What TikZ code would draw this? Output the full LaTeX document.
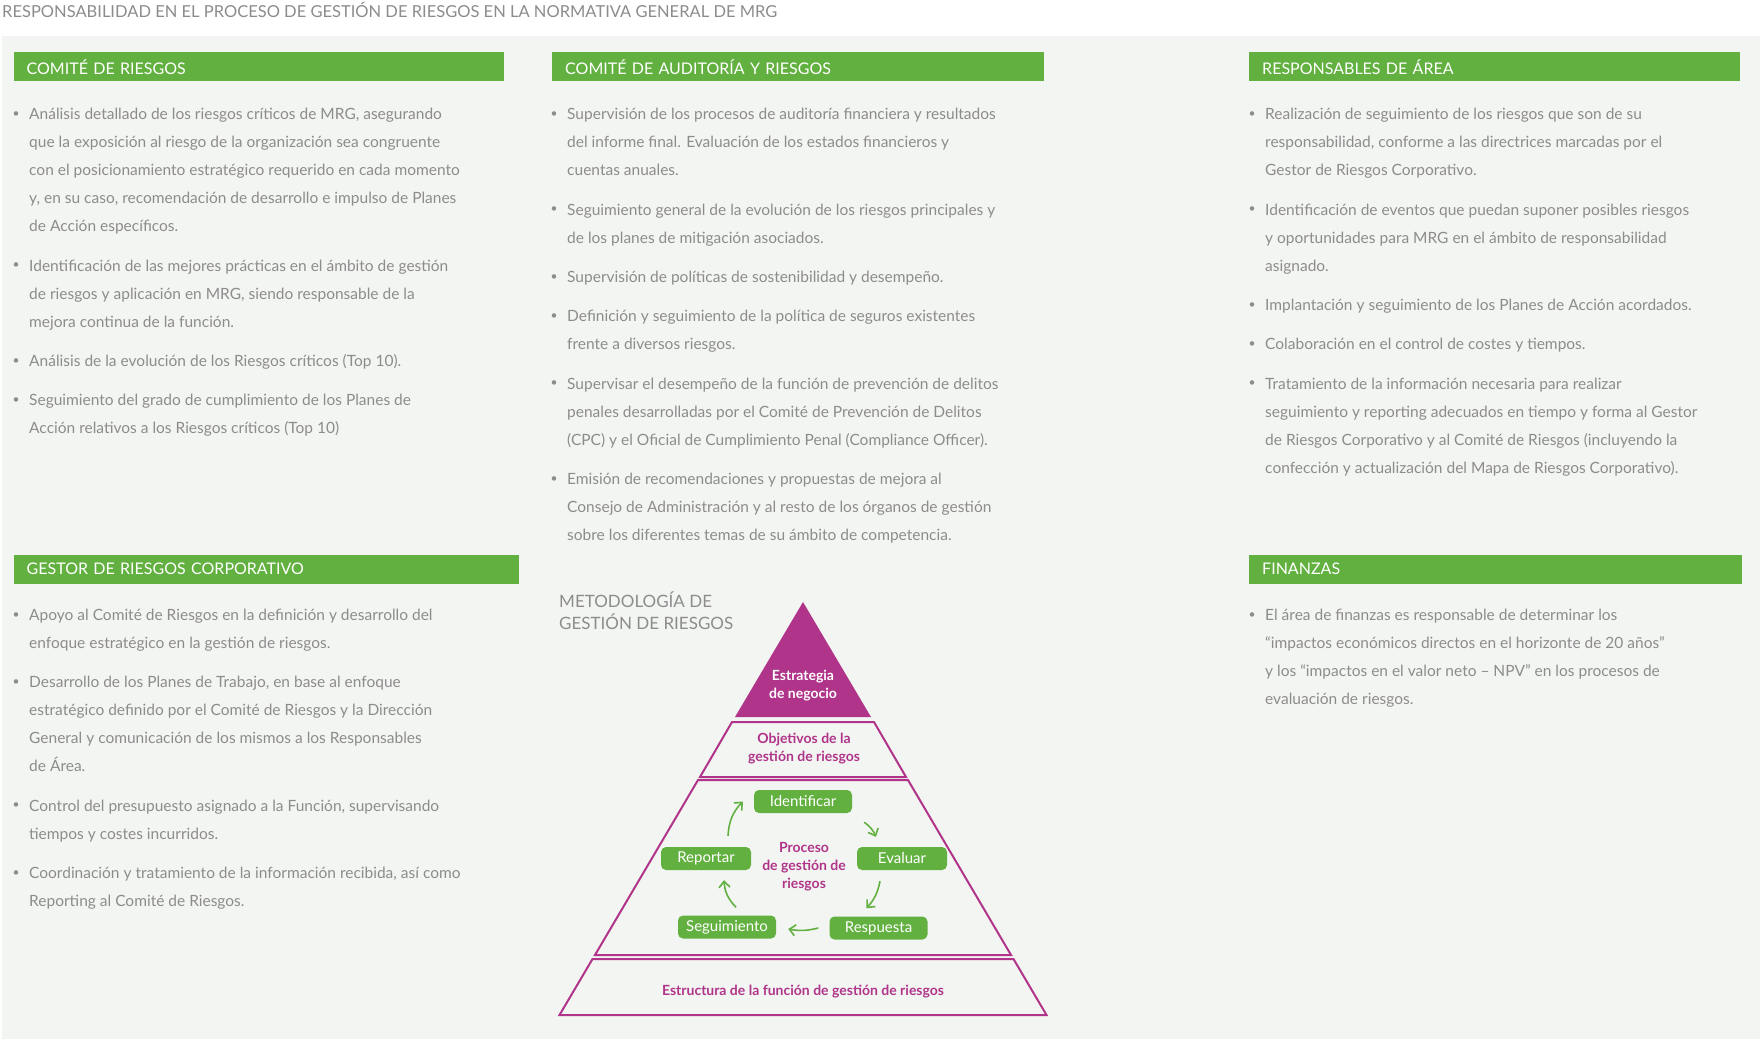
\documentclass[tikz,border=0pt]{standalone}
\usepackage{fontspec}
\setmainfont{Lato}
\usetikzlibrary{arrows.meta}
\definecolor{mrggreen}{HTML}{62B140}
\definecolor{mrgpurple}{HTML}{B0358A}
\definecolor{mrgtext}{HTML}{8C8C8C}
\definecolor{mrgback}{HTML}{F3F5F2}
\tikzset{
  txt/.style={anchor=north west, inner sep=0pt, align=left, text=mrgtext,
    font=\fontsize{15.5}{28}\selectfont},
  bul/.style={inner sep=0pt, text=mrgtext, font=\fontsize{12}{14}\selectfont},
  hdr/.style={anchor=north west, fill=mrggreen, text=white, inner xsep=13pt,
    inner ysep=0pt, minimum height=29pt, align=left, font=\fontsize{16}{18}\selectfont},
  band/.style={draw=mrgpurple, line width=2pt},
  step box/.style={fill=mrggreen, rounded corners=5pt, text=white, minimum width=98pt,
    minimum height=23pt, inner sep=0pt, font=\fontsize{15}{17}\selectfont},
  ptxt/.style={text=mrgpurple, align=center, inner sep=0pt,
    font=\bfseries\fontsize{14}{18}\selectfont},
  cyc/.style={draw=mrggreen, line width=1.6pt, -{Straight Barb[length=6pt,width=11pt]}}
}
% bullet item: x, y of first line centre, text
\newcommand{\bitem}[3]{%
  \node[txt] at (#1,#2-14.6) {\strut #3};
  \node[bul] at (#1-13,#2) {\textbullet};}
\begin{document}
\begin{tikzpicture}[x=1pt, y=-1pt]
% Background
    \useasboundingbox (0,0) rectangle (1760,1039);
    \fill[white] (0,0) rectangle (1760,1039);
    \fill[mrgback] (2,36) rectangle (1760,1039);
    \node[anchor=west, inner sep=0pt, text=mrgtext, font=\fontsize{16.5}{18}\selectfont]
      (title) at (2,10) {RESPONSABILIDAD EN EL PROCESO DE GESTIÓN DE RIESGOS EN LA NORMATIVA GENERAL DE MRG};
% Headers
    \node[hdr, text width=464.5pt] (hcomite) at (13.5,52) {COMITÉ DE RIESGOS};
    \node[hdr, text width=466pt] (hauditoria) at (552,52) {COMITÉ DE AUDITORÍA Y RIESGOS};
    \node[hdr, text width=465pt] (hresp) at (1249,52) {RESPONSABLES DE ÁREA};
    \node[hdr, text width=479pt] (hgestor) at (13.5,554.5) {GESTOR DE RIESGOS CORPORATIVO};
    \node[hdr, text width=467pt] (hfinanzas) at (1249,554.5) {FINANZAS};
% Comite de riesgos
    \bitem{29}{114.5}{Análisis detallado de los riesgos críticos de MRG, asegurando\\que la exposición al riesgo de la organización sea congruente\\con el posicionamiento estratégico requerido en cada momento\\y, en su caso, recomendación de desarrollo e impulso de Planes\\de Acción específicos.}
    \bitem{29}{266}{Identificación de las mejores prácticas en el ámbito de gestión\\de riesgos y aplicación en MRG, siendo responsable de la\\mejora continua de la función.}
    \bitem{29}{361.4}{Análisis de la evolución de los Riesgos críticos (Top 10).}
    \bitem{29}{400.7}{Seguimiento del grado de cumplimiento de los Planes de\\Acción relativos a los Riesgos críticos (Top 10)}
% Comite de auditoria
    \bitem{567}{114.5}{Supervisión de los procesos de auditoría financiera y resultados\\del informe final. Evaluación de los estados financieros y\\cuentas anuales.}
    \bitem{567}{209.9}{Seguimiento general de la evolución de los riesgos principales y\\de los planes de mitigación asociados.}
    \bitem{567}{277.3}{Supervisión de políticas de sostenibilidad y desempeño.}
    \bitem{567}{316.5}{Definición y seguimiento de la política de seguros existentes\\frente a diversos riesgos.}
    \bitem{567}{383.9}{Supervisar el desempeño de la función de prevención de delitos\\penales desarrolladas por el Comité de Prevención de Delitos\\(CPC) y el Oficial de Cumplimiento Penal (Compliance Officer).}
    \bitem{567}{479.3}{Emisión de recomendaciones y propuestas de mejora al\\Consejo de Administración y al resto de los órganos de gestión\\sobre los diferentes temas de su ámbito de competencia.}
% Responsables de area
    \bitem{1265}{114.5}{Realización de seguimiento de los riesgos que son de su\\responsabilidad, conforme a las directrices marcadas por el\\Gestor de Riesgos Corporativo.}
    \bitem{1265}{209.9}{Identificación de eventos que puedan suponer posibles riesgos\\y oportunidades para MRG en el ámbito de responsabilidad\\asignado.}
    \bitem{1265}{305.3}{Implantación y seguimiento de los Planes de Acción acordados.}
    \bitem{1265}{344.6}{Colaboración en el control de costes y tiempos.}
    \bitem{1265}{383.9}{Tratamiento de la información necesaria para realizar\\seguimiento y reporting adecuados en tiempo y forma al Gestor\\de Riesgos Corporativo y al Comité de Riesgos (incluyendo la\\confección y actualización del Mapa de Riesgos Corporativo).}
% Gestor de riesgos corporativo
    \bitem{29}{615.1}{Apoyo al Comité de Riesgos en la definición y desarrollo del\\enfoque estratégico en la gestión de riesgos.}
    \bitem{29}{682.5}{Desarrollo de los Planes de Trabajo, en base al enfoque\\estratégico definido por el Comité de Riesgos y la Dirección\\General y comunicación de los mismos a los Responsables\\de Área.}
    \bitem{29}{806}{Control del presupuesto asignado a la Función, supervisando\\tiempos y costes incurridos.}
    \bitem{29}{873.3}{Coordinación y tratamiento de la información recibida, así como\\Reporting al Comité de Riesgos.}
% Finanzas
    \bitem{1265}{615.1}{El área de finanzas es responsable de determinar los\\“impactos económicos directos en el horizonte de 20 años”\\y los “impactos en el valor neto – NPV” en los procesos de\\evaluación de riesgos.}
% Pyramid
    \node[anchor=north west, inner sep=0pt, align=left, text=mrgtext,
      font=\fontsize{17}{22}\selectfont] (metodo) at (559,592) {METODOLOGÍA DE\\GESTIÓN DE RIESGOS};
    \fill[mrgpurple] (803,602) -- (871,717) -- (735,717) -- cycle;
    \draw[band] (732,722) -- (874,722) -- (906,777) -- (700,777) -- cycle;
    \draw[band] (698,780) -- (908,780) -- (1011,955) -- (595,955) -- cycle;
    \draw[band] (592.5,959) -- (1013.5,959) -- (1046.5,1015) -- (559.5,1015) -- cycle;
    \node[ptxt, text=white] (estrategia) at (803,686) {Estrategia\\de negocio};
    \node[ptxt] (objetivos) at (804,749) {Objetivos de la\\gestión de riesgos};
    \node[ptxt] (proceso) at (804,867) {Proceso\\de gestión de\\riesgos};
    \node[ptxt] (estructura) at (803,992) {Estructura de la función de gestión de riesgos};
% Process cycle
    \node[step box] (ident) at (803,801.5) {Identificar};
    \node[step box, minimum width=90pt] (eval) at (902,858.5) {Evaluar};
    \node[step box] (resp) at (878.5,928) {Respuesta};
    \node[step box] (segui) at (727,927) {Seguimiento};
    \node[step box, minimum width=90pt] (report) at (706,858.5) {Reportar};
    \draw[cyc] ([shift={(12,9)}]ident.south east) to[bend left=15] ([shift={(-26,-10)}]eval.north);
    \draw[cyc] ([shift={(-22,11)}]eval.south) to[bend left=15] ([shift={(-12,-8)}]resp.north);
    \draw[cyc] ([shift={(-11,0)}]resp.west) to[bend left=12] ([shift={(12,2)}]segui.east);
    \draw[cyc] ([shift={(9,-8)}]segui.north) to[bend left=20] ([shift={(18,10)}]report.south);
    \draw[cyc] ([shift={(22,-11)}]report.north) to[bend left=20] ([shift={(-11,0)}]ident.west);
\end{tikzpicture}
\end{document}
